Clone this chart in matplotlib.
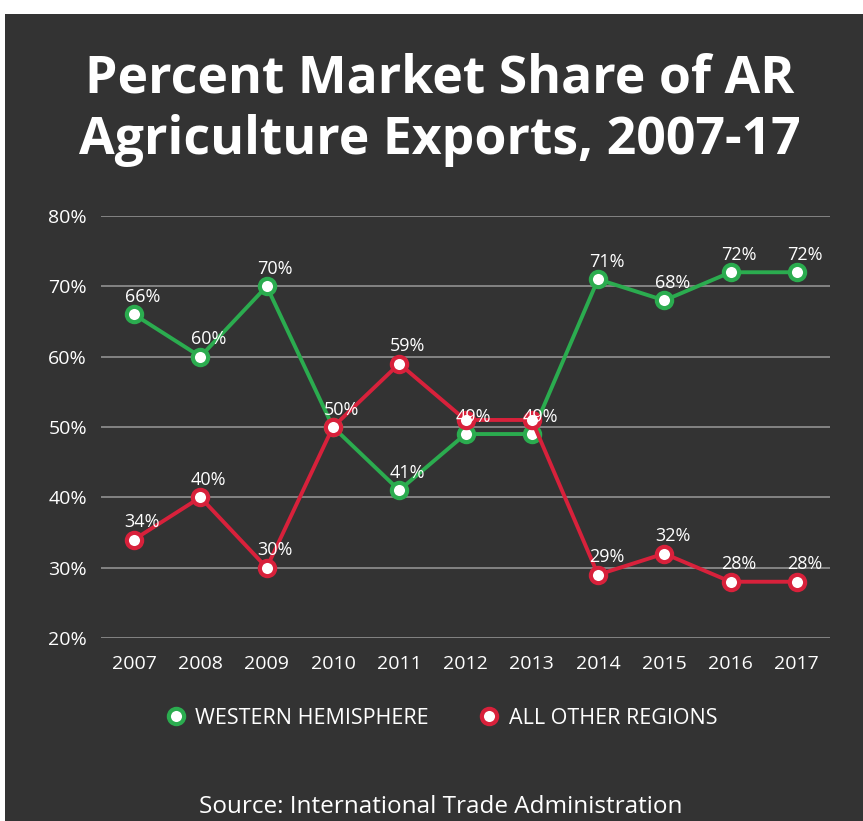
import matplotlib
matplotlib.use("Agg")
import matplotlib.pyplot as plt
from matplotlib.patches import Rectangle
from matplotlib.lines import Line2D

years = ["2007", "2008", "2009", "2010", "2011", "2012", "2013", "2014", "2015", "2016", "2017"]
western = [66, 60, 70, 50, 41, 49, 49, 71, 68, 72, 72]
others = [34, 40, 30, 50, 59, 51, 51, 29, 32, 28, 28]
yticks = [20, 30, 40, 50, 60, 70, 80]

BG = "#333333"
GREEN = "#2bac4f"
RED = "#d8213b"
W, H = 863, 821

fig = plt.figure(figsize=(W / 100, H / 100), dpi=100, facecolor="white")
fig.patches.append(Rectangle((5 / W, 0), 1 - 5 / W, 1 - 14 / H, transform=fig.transFigure,
                             facecolor=BG, edgecolor="none", zorder=-10))

ax = fig.add_axes([101 / W, 1 - 638 / H, (830 - 101) / W, (638 - 216) / H])
ax.set_facecolor("none")
for s in ax.spines.values():
    s.set_visible(False)
x = list(range(len(years)))
ax.set_xlim(-0.5, len(years) - 0.5)
ax.set_ylim(20, 80)
ax.set_yticks(yticks)
ax.set_yticklabels([f"{v}%" for v in yticks])
ax.set_xticks(x)
ax.set_xticklabels(years)
ax.tick_params(length=0, colors="white", labelsize=14, pad=10)
ax.tick_params(axis="x", pad=12)
for lab in ax.get_xticklabels() + ax.get_yticklabels():
    lab.set_fontfamily("Open Sans")
ax.grid(axis="y", color="#8a8a8a", linewidth=1.3)
ax.set_axisbelow(True)

mk = dict(marker="o", markersize=11, markerfacecolor="white", markeredgewidth=3.0)
ax.plot(x, western, color=GREEN, linewidth=2.8, markeredgecolor=GREEN, zorder=3, **mk)
ax.plot(x, others, color=RED, linewidth=2.8, markeredgecolor=RED, zorder=4, **mk)

for i in x:
    ax.annotate(f"{western[i]}%", (i, western[i]), xytext=(6, 6), textcoords="offset points",
                ha="center", va="bottom", color="white", fontsize=13, fontfamily="Open Sans", zorder=5)
    if abs(others[i] - western[i]) > 2:
        ax.annotate(f"{others[i]}%", (i, others[i]), xytext=(6, 6), textcoords="offset points",
                    ha="center", va="bottom", color="white", fontsize=13, fontfamily="Open Sans", zorder=5)

fig.text(440 / W, 1 - 110 / H, "Percent Market Share of AR\nAgriculture Exports, 2007-17",
         ha="center", va="center", color="white", fontsize=37.3, fontweight="bold",
         fontfamily="Open Sans", linespacing=1.22)

handles = [Line2D([], [], linestyle="none", markeredgecolor=GREEN, **mk),
           Line2D([], [], linestyle="none", markeredgecolor=RED, **mk)]
fig.legend(handles, ["WESTERN HEMISPHERE", "ALL OTHER REGIONS"], loc="center",
           bbox_to_anchor=(440 / W, 1 - 718 / H), ncol=2, frameon=False,
           prop={"family": "Open Sans", "size": 15.5}, labelcolor="white",
           handletextpad=0.3, columnspacing=2.2, handlelength=1.2)

fig.text(441 / W, 1 - 807 / H, "Source: International Trade Administration",
         ha="center", va="center", color="white", fontsize=17.5, fontfamily="Open Sans")

fig.savefig("out.png", dpi=100, facecolor="white")
